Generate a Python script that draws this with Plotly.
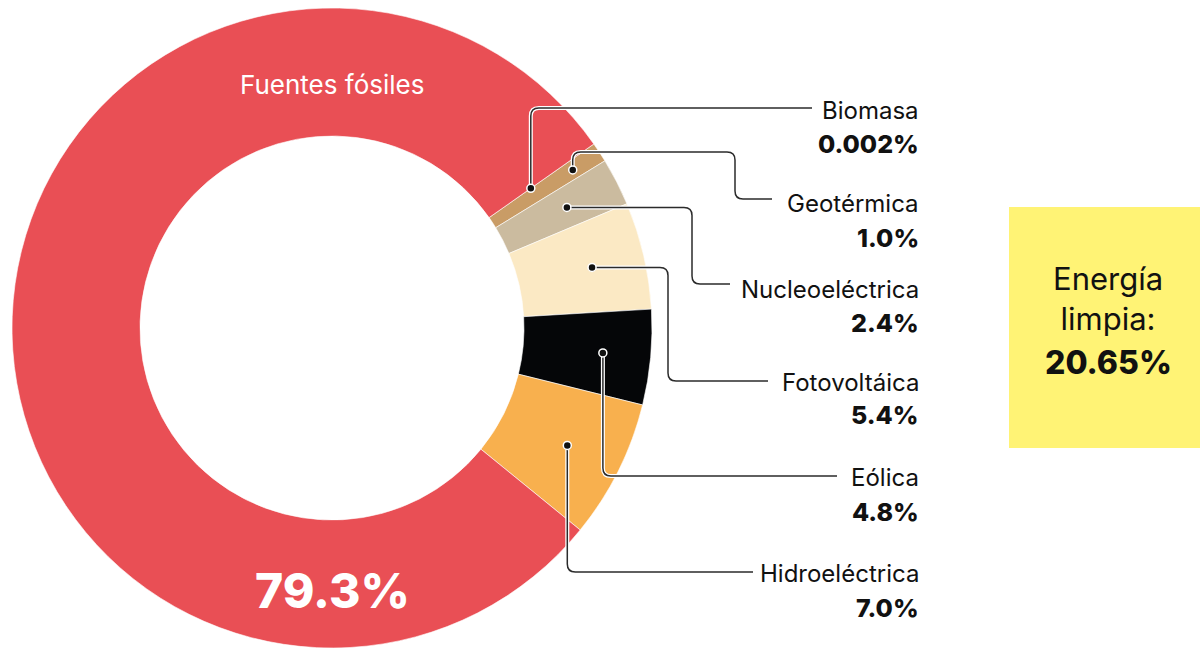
import math
import plotly.graph_objects as go

# ---------------------------------------------------------------------------
# Data
# ---------------------------------------------------------------------------
SOURCES = ["Biomasa", "Geotérmica", "Nucleoeléctrica", "Fotovoltáica",
           "Eólica", "Hidroeléctrica", "Fuentes fósiles"]
SHARES = [0.002, 1.0, 2.4, 5.4, 4.8, 7.0, 79.3]
SHARE_LABELS = ["0.002%", "1.0%", "2.4%", "5.4%", "4.8%", "7.0%", "79.3%"]
CLEAN_TOTAL = "20.65%"

COLORS = ["#C99C66", "#C99C66", "#CBBB9F", "#FBE9C4",
          "#050608", "#F8B04E", "#E94F55"]

W, H = 1200, 648
CX, CY, R = 332, 328, 320
ROTATION = 54.9
FONT = "Inter"
LINE_COLOR = "#2b2b2b"

fig = go.Figure()

fig.add_trace(
    go.Pie(
        labels=SOURCES,
        values=SHARES,
        sort=False,
        direction="clockwise",
        rotation=ROTATION,
        hole=0.6,
        textinfo="none",
        hoverinfo="label+percent",
        marker=dict(colors=COLORS, line=dict(color="white", width=0.6)),
        domain=dict(x=[(CX - R) / W, (CX + R) / W], y=[1 - (CY + R) / H, 1 - (CY - R) / H]),
        showlegend=False,
    )
)

# invisible pixel axes for leader lines / labels
fig.add_trace(go.Scatter(x=[0, W], y=[0, H], mode="markers", marker=dict(opacity=0),
                         hoverinfo="skip", showlegend=False))


def mid_point(i, radius):
    total = sum(SHARES)
    cum = sum(SHARES[:i]) + SHARES[i] / 2
    a = math.radians(ROTATION + 360 * cum / total)
    return CX + radius * math.sin(a), CY - radius * math.cos(a)


def rounded_path(pts, rad=8):
    d = f"M {pts[0][0]:.1f},{pts[0][1]:.1f}"
    for k in range(1, len(pts) - 1):
        (x0, y0), (x1, y1), (x2, y2) = pts[k - 1], pts[k], pts[k + 1]
        l1 = math.hypot(x1 - x0, y1 - y0) or 1
        l2 = math.hypot(x2 - x1, y2 - y1) or 1
        r1 = min(rad, l1 / 2)
        r2 = min(rad, l2 / 2)
        ax, ay = x1 - (x1 - x0) / l1 * r1, y1 - (y1 - y0) / l1 * r1
        bx, by = x1 + (x2 - x1) / l2 * r2, y1 + (y2 - y1) / l2 * r2
        d += f" L {ax:.1f},{ay:.1f} Q {x1:.1f},{y1:.1f} {bx:.1f},{by:.1f}"
    d += f" L {pts[-1][0]:.1f},{pts[-1][1]:.1f}"
    return d


# leader layout: (dot radius, route builder, label y, pct y)
LABEL_X = 921
leaders = {
    0: (243, lambda x, y: [(x, y), (x, 108), (812, 108)], 110, 144),
    1: (288, lambda x, y: [(x, y), (x, 152), (735, 152), (735, 199), (772, 199)], 203, 238),
    2: (264, lambda x, y: [(x, y), (692, y), (692, 284), (730, 284)], 289, 323),
    3: (267, lambda x, y: [(x, y), (668, y), (668, 381), (768, 381)], 382, 415),
    4: (272, lambda x, y: [(x, y), (x, 476), (837, 476)], 477, 512),
    5: (263, lambda x, y: [(x, y), (x, 572), (753, 572)], 573, 608),
}

shapes = [
    dict(type="rect", xref="x", yref="y", x0=1009, x1=1200, y0=207, y1=448,
         fillcolor="#FFF375", line=dict(width=0), layer="below"),
]
annotations = []

for i, (rad, route, ly, py) in leaders.items():
    px, py_dot = mid_point(i, rad)
    path = rounded_path(route(px, py_dot))
    shapes.append(dict(type="path", xref="x", yref="y", path=path,
                       line=dict(color="white", width=4), layer="above"))
    shapes.append(dict(type="path", xref="x", yref="y", path=path,
                       line=dict(color=LINE_COLOR, width=1.5), layer="above"))
    shapes.append(dict(type="circle", xref="x", yref="y",
                       x0=px - 4, x1=px + 4, y0=py_dot - 4, y1=py_dot + 4,
                       fillcolor="#111111", line=dict(color="white", width=1.5),
                       layer="above"))
    annotations.append(dict(x=LABEL_X, y=ly, xref="x", yref="y", text=SOURCES[i],
                            xanchor="right", yanchor="middle", showarrow=False,
                            font=dict(family=FONT, size=24, color="#111111")))
    annotations.append(dict(x=LABEL_X, y=py, xref="x", yref="y", text=SHARE_LABELS[i],
                            xanchor="right", yanchor="middle", showarrow=False,
                            font=dict(family=FONT, size=25, color="#111111", weight=800)))

# text inside the fossil slice
annotations.append(dict(x=CX, y=84, xref="x", yref="y", text=SOURCES[6],
                        showarrow=False, font=dict(family=FONT, size=26, color="white")))
annotations.append(dict(x=CX, y=590, xref="x", yref="y", text=SHARE_LABELS[6],
                        showarrow=False, font=dict(family=FONT, size=48, color="white", weight=800)))

# clean energy box
annotations.append(dict(x=1108, y=298, xref="x", yref="y", text="Energía<br>limpia:",
                        showarrow=False, yanchor="middle",
                        font=dict(family=FONT, size=31, color="#111111")))
annotations.append(dict(x=1108, y=362, xref="x", yref="y", text=CLEAN_TOTAL,
                        showarrow=False, yanchor="middle",
                        font=dict(family=FONT, size=32, color="#111111", weight=800)))

fig.update_layout(
    width=W,
    height=H,
    margin=dict(l=0, r=0, t=0, b=0),
    paper_bgcolor="white",
    plot_bgcolor="rgba(0,0,0,0)",
    xaxis=dict(range=[0, W], visible=False, fixedrange=True),
    yaxis=dict(range=[H, 0], visible=False, fixedrange=True),
    shapes=shapes,
    annotations=annotations,
)

# drop the default page margin so the figure sits flush in the window
fig.write_html("out.html", config={"displayModeBar": False},
               post_script="document.body.style.margin='0';")
